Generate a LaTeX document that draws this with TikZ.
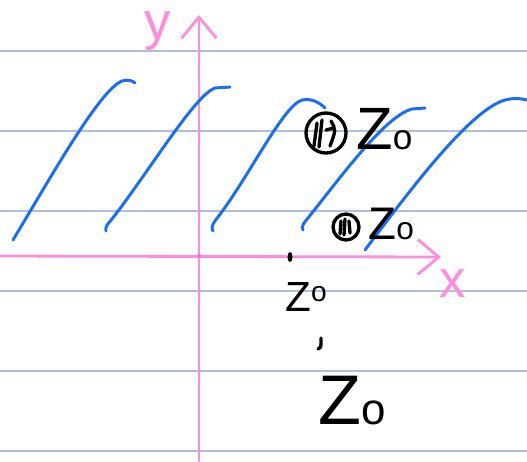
\documentclass[tikz,border=0pt]{standalone}
\usepackage{fontspec}
\setsansfont{Liberation Sans}
\usetikzlibrary{arrows.meta}
\definecolor{inkpink}{HTML}{FF8CDD}
\definecolor{inkblue}{HTML}{1A6EF2}
\definecolor{ruling}{HTML}{AFC0DA}

\begin{document}
\begin{tikzpicture}[x=0.02cm, y=-0.02cm,
  ruled/.style={ruling, line width=0.7pt},
  axisline/.style={inkpink, line width=1.6pt, line cap=round, line join=round,
    -{Straight Barb[length=0.42cm, width=0.7cm]}},
  axislabel/.style={inkpink, inner sep=0pt, font=\sffamily\fontsize{30}{30}\selectfont},
  sawtooth/.style={inkblue, line width=1.7pt, line cap=round, line join=round},
  ink/.style={black, line width=1.9pt, line cap=round, line join=round},
  zlabel/.style={black, inner sep=0pt, anchor=south west, font=\sffamily\fontsize{34}{34}\selectfont}
]
  \useasboundingbox (0,0) rectangle (527,461);

  % notebook ruling
  \foreach \ry in {51,131,211,291,371,451}
    \draw[ruled] (0,\ry) -- (527,\ry);

  % axes
  \coordinate (origin) at (199,256);
  \coordinate (xstart) at (0,256);
  \coordinate (xend) at (441,257);
  \coordinate (ystart) at (199,461);
  \coordinate (yend) at (199,15);
  \draw[axisline] (xstart) -- (xend);
  \draw[axisline] (ystart) -- (yend);
  \fill[inkpink!80!magenta] (origin) circle (2.2);
  \node[axislabel, anchor=north] (ylab) at (158,11) {y};
  \node[axislabel] (xlab) at (453,284) {x};

  % periodic strip
  \draw[sawtooth] (13,240) .. controls (55,170) and (100,90) .. (122,81)
    .. controls (128,79) and (133,81) .. (135,83);
  \draw[sawtooth] (106,231) .. controls (105,226) and (108,224) .. (112,219)
    .. controls (150,170) and (195,95) .. (215,88) -- (230,87);
  \draw[sawtooth] (213,231) .. controls (210,227) and (214,222) .. (218,217)
    .. controls (250,175) and (283,106) .. (302,100)
    .. controls (312,98) and (320,103) .. (325,108);
  \draw[sawtooth] (303,230) .. controls (301,226) and (304,223) .. (308,218)
    .. controls (340,178) and (385,116) .. (412,109) -- (425,108);
  \draw[sawtooth] (365,250) .. controls (410,190) and (470,110) .. (505,100)
    .. controls (512,98) and (520,98) .. (527,100);

  % marked points
  \draw[ink] (326,133) circle (20);
  \draw[ink] (317,123) -- (314,146) (322,120) -- (319,147) (326,130) -- (334,128)
    (331,121) .. controls (336,130) .. (330,146);
  \draw[ink] (346,227) circle (13);
  \draw[ink] (341,221) -- (340,234) (345,219) -- (344,235) (349,221) -- (350,233);
  \node[zlabel] (za) at (356,150) {Z{\fontsize{20}{20}\selectfont o}};
  \node[zlabel, font=\sffamily\fontsize{26}{26}\selectfont] (zb) at (368,240) {Z{\fontsize{18}{18}\selectfont o}};

  \fill[black] (290,257) ellipse (2.5 and 5);
  \node[zlabel, font=\sffamily\fontsize{24}{24}\selectfont] (zc) at (285,312)
    {Z\raisebox{6pt}{\fontsize{16}{16}\selectfont o}};
  \draw[ink] (321,338) -- (321,344) .. controls (321,347) .. (318,349);
  \node[zlabel, font=\sffamily\fontsize{40}{40}\selectfont] (zd) at (318,425) {Z{\fontsize{25}{25}\selectfont o}};
\end{tikzpicture}
\end{document}
